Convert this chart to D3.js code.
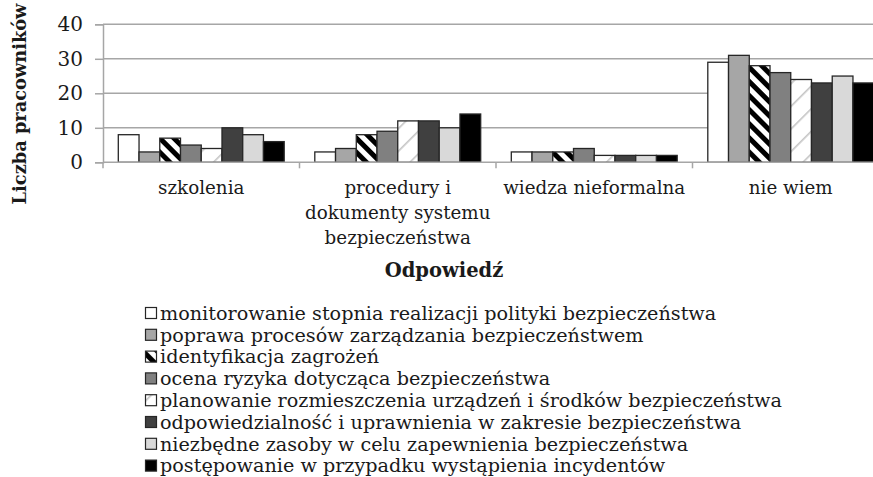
<!DOCTYPE html>
<html>
<head>
<meta charset="utf-8">
<script src="https://cdn.jsdelivr.net/npm/d3@7/dist/d3.min.js"></script>
<style>
  html, body { margin: 0; padding: 0; background: #fff; }
  svg { display: block; }
  text { font-family: "DejaVu Serif", "Liberation Serif", serif; fill: #1a1a1a; }
</style>
</head>
<body>
<svg id="chart" width="873" height="477"></svg>
<script>
const categories = [
  ["szkolenia"],
  ["procedury i", "dokumenty systemu", "bezpieczeństwa"],
  ["wiedza nieformalna"],
  ["nie wiem"]
];
const seriesNames = [
  "monitorowanie stopnia realizacji polityki bezpieczeństwa",
  "poprawa procesów zarządzania bezpieczeństwem",
  "identyfikacja zagrożeń",
  "ocena ryzyka dotycząca bezpieczeństwa",
  "planowanie rozmieszczenia urządzeń i środków bezpieczeństwa",
  "odpowiedzialność i uprawnienia w zakresie bezpieczeństwa",
  "niezbędne zasoby w celu zapewnienia bezpieczeństwa",
  "postępowanie w przypadku wystąpienia incydentów"
];
// values[series][category]
const s1 = [8, 3, 3, 29];
const s2 = [3, 4, 3, 31];
const s3 = [7, 8, 3, 28];
const s4 = [5, 9, 4, 26];
const s5 = [4, 12, 2, 24];
const s6 = [10, 12, 2, 23];
const s7 = [8, 10, 2, 25];
const s8 = [6, 14, 2, 23];
const values = [s1, s2, s3, s4, s5, s6, s7, s8];
const yTicks = [0, 10, 20, 30, 40];
const yTitle = "Liczba pracowników";
const xTitle = "Odpowiedź";

const fills = ["#ffffff", "#a6a6a6", "url(#hatchWide)", "#808080", "url(#hatchThin)", "#404040", "#d9d9d9", "#000000"];

const svg = d3.select("#chart");
const defs = svg.append("defs");

const p1 = defs.append("pattern").attr("id", "hatchWide")
  .attr("patternUnits", "userSpaceOnUse").attr("width", 10).attr("height", 10)
  .attr("patternTransform", "rotate(-45)");
p1.append("rect").attr("width", 10).attr("height", 10).attr("fill", "#fff");
p1.append("rect").attr("width", 5).attr("height", 10).attr("fill", "#000");

const p2 = defs.append("pattern").attr("id", "hatchThin")
  .attr("patternUnits", "userSpaceOnUse").attr("width", 16).attr("height", 16)
  .attr("patternTransform", "rotate(45)");
p2.append("rect").attr("width", 16).attr("height", 16).attr("fill", "#fff");
p2.append("rect").attr("width", 1.6).attr("height", 16).attr("fill", "#c4c4c4");

const plot = { left: 103, right: 889, top: 24.3, bottom: 162.3 };

const y = d3.scaleLinear().domain([0, 40]).range([plot.bottom, plot.top]);
const x0 = d3.scaleBand().domain(d3.range(categories.length)).range([plot.left, plot.right]).padding(0);
const bw = x0.bandwidth();
const groupPad = 15.3;
const x1 = d3.scaleBand().domain(d3.range(values.length)).range([groupPad, bw - groupPad]).padding(0);

// gridlines
svg.append("g").selectAll("line").data(yTicks.filter(d => d > 0)).join("line")
  .attr("x1", plot.left).attr("x2", plot.right)
  .attr("y1", d => y(d)).attr("y2", d => y(d))
  .attr("stroke", "#a6a6a6").attr("stroke-width", 1.5);

// bars
const groups = svg.append("g").selectAll("g").data(categories).join("g")
  .attr("transform", (d, i) => `translate(${x0(i)},0)`);
groups.selectAll("rect").data((d, ci) => values.map((s, si) => ({ si, v: s[ci] }))).join("rect")
  .attr("x", d => x1(d.si))
  .attr("y", d => y(d.v))
  .attr("width", x1.bandwidth())
  .attr("height", d => y(0) - y(d.v))
  .attr("fill", d => fills[d.si])
  .attr("stroke", "#262626").attr("stroke-width", 1.3);

// y axis
const yAxis = d3.axisLeft(y).tickValues(yTicks).tickSize(8).tickPadding(12);
const gy = svg.append("g").attr("transform", `translate(${plot.left},0)`).call(yAxis);
gy.select(".domain").attr("stroke", "#a6a6a6").attr("stroke-width", 1.5);
gy.selectAll(".tick line").attr("stroke", "#a6a6a6").attr("stroke-width", 1.5);
gy.selectAll(".tick text").attr("font-family", "Liberation Serif, serif").attr("font-size", 20).attr("fill", "#1a1a1a");

// x axis baseline and ticks
const gx = svg.append("g");
gx.append("line").attr("x1", plot.left).attr("x2", plot.right)
  .attr("y1", plot.bottom).attr("y2", plot.bottom)
  .attr("stroke", "#a6a6a6").attr("stroke-width", 1.5);
gx.selectAll("line.tk").data(d3.range(categories.length + 1)).join("line").attr("class", "tk")
  .attr("x1", i => plot.left + i * bw).attr("x2", i => plot.left + i * bw)
  .attr("y1", plot.bottom).attr("y2", plot.bottom + 6)
  .attr("stroke", "#a6a6a6").attr("stroke-width", 1.5);

// category labels
const lab = svg.append("g").selectAll("text").data(categories).join("text")
  .attr("text-anchor", "middle").attr("font-size", 18.3)
  .attr("x", (d, i) => x0(i) + bw / 2).attr("y", 194);
lab.selectAll("tspan").data(d => d).join("tspan")
  .attr("x", function () { return d3.select(this.parentNode).attr("x"); })
  .attr("dy", (d, i) => i === 0 ? 0 : 25)
  .text(d => d);

// axis titles
svg.append("text").attr("transform", "translate(26,104) rotate(-90)")
  .attr("text-anchor", "middle").attr("font-weight", "bold").attr("font-size", 17.8)
  .attr("font-family", "Liberation Serif, serif")
  .text(yTitle);
svg.append("text").attr("x", 444).attr("y", 277)
  .attr("text-anchor", "middle").attr("font-weight", "bold").attr("font-size", 19.5)
  .attr("font-family", "Liberation Serif, serif")
  .text(xTitle);

// legend
const leg = svg.append("g").selectAll("g").data(seriesNames).join("g")
  .attr("transform", (d, i) => `translate(145,${313 + i * 21.8})`);
leg.append("rect").attr("x", 0.5).attr("y", -5.5).attr("width", 11).attr("height", 11)
  .attr("fill", (d, i) => fills[i]).attr("stroke", "#262626").attr("stroke-width", 1.2);
leg.append("text").attr("x", 15).attr("y", 0).attr("dy", "0.35em")
  .attr("font-size", 19.2).text(d => d);
</script>
</body>
</html>
